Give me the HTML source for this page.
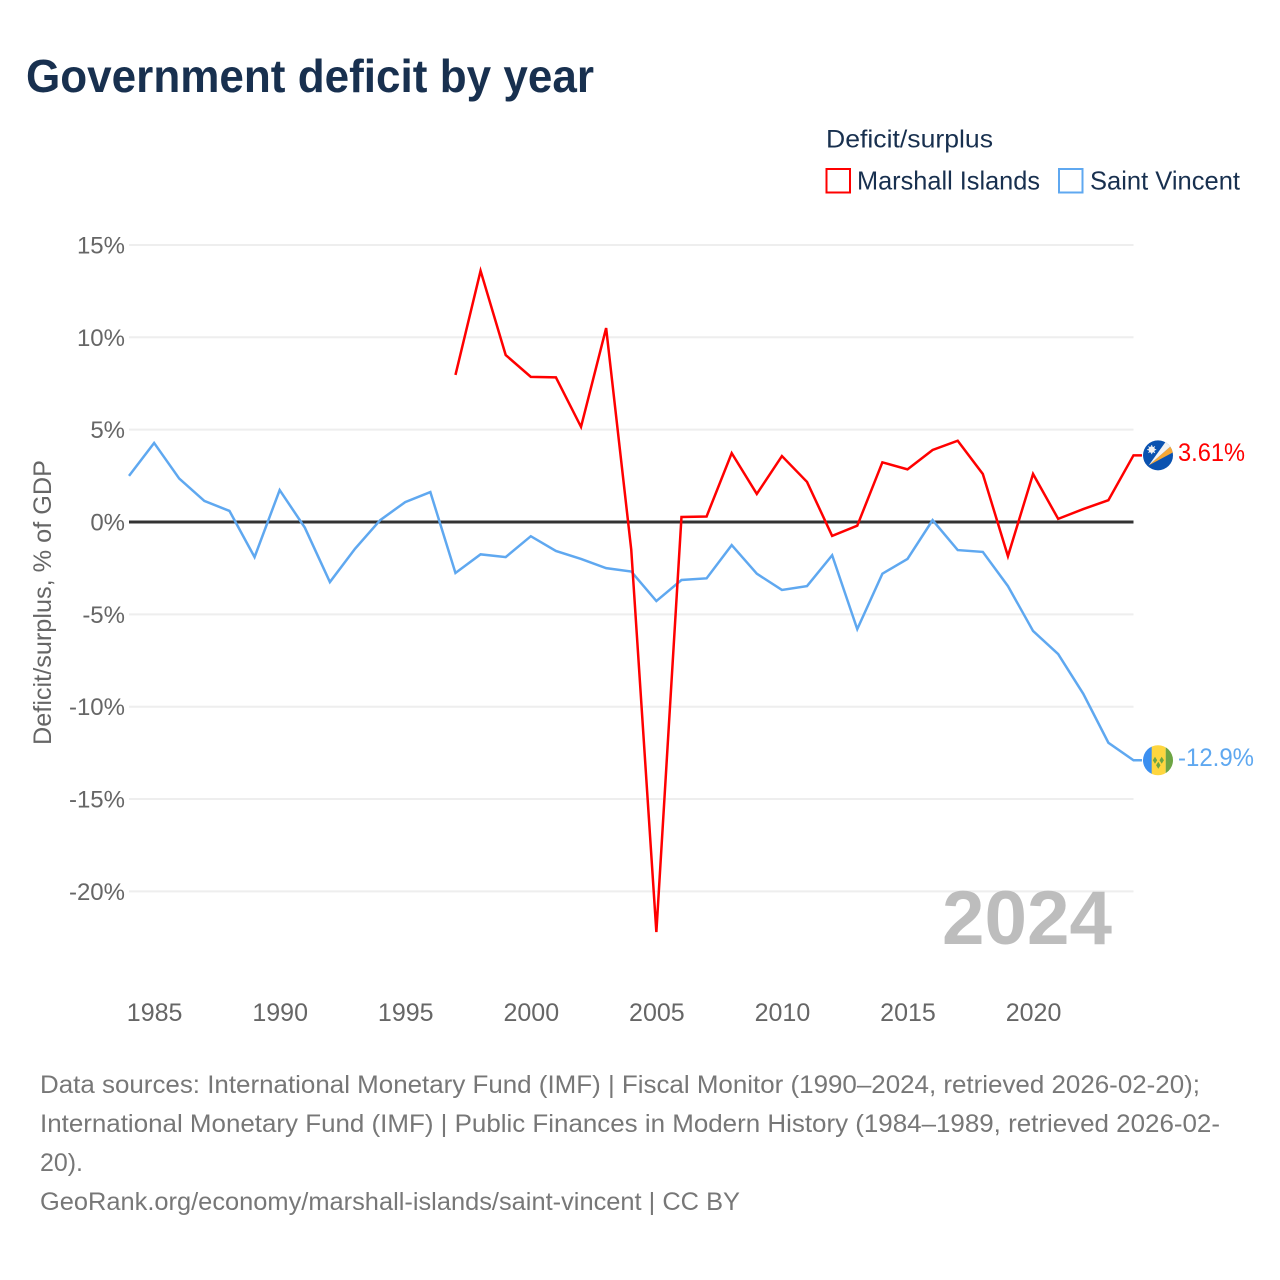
<!DOCTYPE html>
<html lang="en">
<head>
<meta charset="utf-8">
<title>Government deficit by year</title>
<style>
html,body{margin:0;padding:0;background:#fff;width:1280px;height:1280px;overflow:hidden}
svg{display:block}
text{font-family:"Liberation Sans",sans-serif}
</style>
</head>
<body>
<svg id="chart" xmlns="http://www.w3.org/2000/svg" width="1280" height="1280" viewBox="0 0 1280 1280">
  <defs>
    <clipPath id="flag-clip-mh"><circle cx="0" cy="0" r="15"></circle></clipPath>
    <clipPath id="flag-clip-vc"><circle cx="0" cy="0" r="15"></circle></clipPath>
  </defs>
  <rect x="0" y="0" width="1280" height="1280" fill="#ffffff"></rect>
  <text x="26" y="92" font-size="46" font-weight="700" fill="#18304f" textLength="568" lengthAdjust="spacingAndGlyphs">Government deficit by year</text>

  <g>
    <text x="826" y="147.5" font-size="25" fill="#18304f" textLength="167" lengthAdjust="spacingAndGlyphs">Deficit/surplus</text>
    <g>
      <rect x="826.5" y="169" width="23.5" height="23.5" fill="#ffffff" stroke="#ff0000" stroke-width="2"></rect>
      <text x="857" y="189.5" font-size="26" fill="#18304f" textLength="183" lengthAdjust="spacingAndGlyphs">Marshall Islands</text>
    </g>
    <g>
      <rect x="1059" y="169" width="23.5" height="23.5" fill="#ffffff" stroke="#5fa8f0" stroke-width="2"></rect>
      <text x="1090" y="189.5" font-size="26" fill="#18304f" textLength="150" lengthAdjust="spacingAndGlyphs">Saint Vincent</text>
    </g>
  </g>

  <g id="grid"></g>
  <g id="y-axis"></g>
  <g id="x-axis"></g>
  <text transform="translate(51,745) rotate(-90)" x="0" y="0" font-size="25" fill="#666666" textLength="285" lengthAdjust="spacingAndGlyphs">Deficit/surplus, % of GDP</text>

  <text x="942" y="944" font-size="76" font-weight="700" fill="#bdbdbd" textLength="170" lengthAdjust="spacingAndGlyphs">2024</text>

  <g id="series"></g>

  <g id="flag-mh">
    <g clip-path="url(#flag-clip-mh)">
      <rect x="-15" y="-16" width="30" height="32" fill="#0a52b0"></rect>
      <polygon points="-9.3,10 13.7,-10 15,-3" fill="#f7a733"></polygon>
      <polygon points="-9.3,10 8.7,-15 13.7,-10" fill="#f2f2f2"></polygon>
      <circle cx="-6.3" cy="-5.7" r="3.2" fill="#f2f2f2"></circle>
      <path d="M-6.3,-10.2 L-6.3,-1.2 M-10.8,-5.7 L-1.8,-5.7 M-9.5,-8.9 L-3.1,-2.5 M-3.1,-8.9 L-9.5,-2.5" stroke="#f2f2f2" stroke-width="1"></path>
    </g>
  </g>
  <g id="flag-vc">
    <g clip-path="url(#flag-clip-vc)">
      <rect x="-15" y="-16" width="9" height="32" fill="#3b8ff0"></rect>
      <rect x="-6.3" y="-16" width="14" height="32" fill="#fed63f"></rect>
      <rect x="7.7" y="-16" width="8" height="32" fill="#6da544"></rect>
      <polygon points="-3,-3.5 -0.8,0 -3,3.5 -5.2,0" fill="#6da544"></polygon>
      <polygon points="3.7,-3.5 5.9,0 3.7,3.5 1.5,0" fill="#6da544"></polygon>
      <polygon points="0.3,1.5 2.5,5 0.3,8.5 -1.9,5" fill="#6da544"></polygon>
    </g>
  </g>

  <g font-size="25" fill="#777777">
    <text x="40" y="1093" textLength="1160" lengthAdjust="spacingAndGlyphs">Data sources: International Monetary Fund (IMF) | Fiscal Monitor (1990–2024, retrieved 2026-02-20);</text>
    <text x="40" y="1132" textLength="1180" lengthAdjust="spacingAndGlyphs">International Monetary Fund (IMF) | Public Finances in Modern History (1984–1989, retrieved 2026-02-</text>
    <text x="40" y="1171" textLength="43" lengthAdjust="spacingAndGlyphs">20).</text>
    <text x="40" y="1210" textLength="700" lengthAdjust="spacingAndGlyphs">GeoRank.org/economy/marshall-islands/saint-vincent | CC BY</text>
  </g>
</svg>

<script>
const years = [1984,1985,1986,1987,1988,1989,1990,1991,1992,1993,1994,1995,1996,1997,1998,1999,2000,2001,2002,2003,2004,2005,2006,2007,2008,2009,2010,2011,2012,2013,2014,2015,2016,2017,2018,2019,2020,2021,2022,2023,2024];
const saintVincent = [2.5,4.28,2.35,1.14,0.6,-1.9,1.73,-0.3,-3.25,-1.45,0.1,1.08,1.62,-2.76,-1.75,-1.9,-0.77,-1.57,-2.0,-2.5,-2.68,-4.28,-3.14,-3.05,-1.25,-2.8,-3.68,-3.47,-1.8,-5.8,-2.8,-2.0,0.1,-1.52,-1.62,-3.47,-5.9,-7.15,-9.3,-11.95,-12.9];
const marshallIslands = [null,null,null,null,null,null,null,null,null,null,null,null,null,7.96,13.6,9.04,7.86,7.83,5.15,10.5,-1.5,-22.2,0.27,0.3,3.73,1.52,3.57,2.17,-0.75,-0.2,3.23,2.85,3.9,4.4,2.6,-1.85,2.6,0.17,0.7,1.18,3.61];
const yTickValues = [15,10,5,0,-5,-10,-15,-20];
const xTickValues = [1985,1990,1995,2000,2005,2010,2015,2020];

const SVG_NS = 'http://www.w3.org/2000/svg';
function xScale(year){ return 129 + (year - 1984) * (1133.5 - 129) / 40; }
function yScale(v){ return 522 - v * 18.47; }
function make(tag, parent, attrs){
  const el = document.createElementNS(SVG_NS, tag);
  for (const k in attrs) el.setAttribute(k, attrs[k]);
  parent.appendChild(el);
  return el;
}

const grid = document.getElementById('grid');
const yAxis = document.getElementById('y-axis');
const xAxis = document.getElementById('x-axis');
const seriesLayer = document.getElementById('series');
const plotLeft = xScale(years[0]);
const plotRight = xScale(years[years.length - 1]);

yTickValues.forEach(function(v){
  const line = make('line', grid, {x1: plotLeft, x2: plotRight, y1: yScale(v), y2: yScale(v), stroke: v === 0 ? '#333333' : '#eeeeee', 'stroke-width': v === 0 ? 3 : 2});
  
  
  const label = make('text', yAxis, {x: 125, y: yScale(v) + 8.5, 'text-anchor': 'end', 'font-size': 24, fill: '#666666'});
  label.textContent = v + '%';
  
  
});

xTickValues.forEach(function(year){
  const label = make('text', xAxis, {x: xScale(year) + 0.5, y: 1021, 'text-anchor': 'middle', 'font-size': 25, fill: '#666666'});
  label.textContent = String(year);
  
  
});

function drawSeries(values, color, labelText, labelX, flagId, seriesName){
  const pts = [];
  values.forEach(function(v, i){
    if (v !== null) pts.push(xScale(years[i]) + ',' + yScale(v));
  });
  const last = values[values.length - 1];
  pts.push('1142,' + yScale(last));
  const path = make('polyline', seriesLayer, {points: pts.join(' '), fill: 'none', stroke: color, 'stroke-width': 2.5, 'stroke-linejoin': 'miter'});
  
  
  const label = make('text', seriesLayer, {x: labelX, y: yScale(last) + 5.5, 'font-size': 25, fill: color, textLength: labelText.length > 5 ? 76 : 67, lengthAdjust: 'spacingAndGlyphs'});
  label.textContent = labelText;
  
  
  document.getElementById(flagId).setAttribute('transform', 'translate(1158,' + yScale(last) + ')');
}

function endLabel(values){
  const last = values[values.length - 1];
  return last.toPrecision(3) + '%';
}

drawSeries(saintVincent, '#5fa8f0', endLabel(saintVincent), 1178, 'flag-vc', 'saint-vincent');
drawSeries(marshallIslands, '#ff0000', endLabel(marshallIslands), 1178, 'flag-mh', 'marshall-islands');
</script>
</body>
</html>
